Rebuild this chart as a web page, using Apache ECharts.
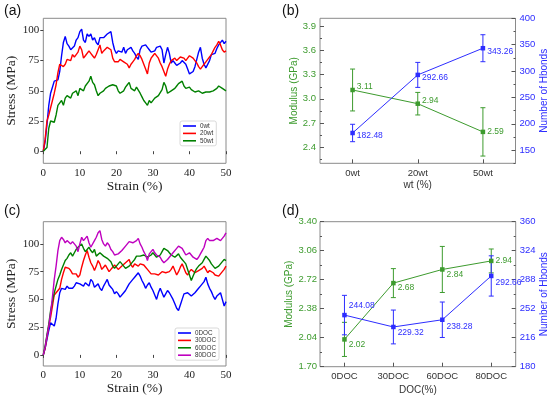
<!DOCTYPE html>
<html><head><meta charset="utf-8">
<script src="https://cdn.jsdelivr.net/npm/echarts@6/dist/echarts.min.js"></script>
<style>html,body{margin:0;padding:0;background:#fff}#c{width:550px;height:399px}</style>
</head><body><div id="c"></div>
<script>
// ---------- DATA ----------
const strainStep = 0.5; // sampling step of the strain readings (%)
const stressTicks = [0, 25, 50, 75, 100];
const strainTicks = [0, 10, 20, 30, 40, 50];

// panel (a): stress (MPa) read every 0.5 % strain, 0..50
const stress0wt = [
 0,8,22,38,48,53,58,57,59,66, 79,90,95,89,87,84,83,87,92,94,
 99,101,92,90,97,95,97,92,94,90, 88,94,95,94,93,97,98,99,90,84,
 81,83,84,82,86,81,84,85,86,83, 81,78,76,84,87,86,88,86,84,82,
 81,83,86,85,87,84,73,80,86,81, 73,75,73,71,70,73,75,74,72,68,
 64,63,66,70,76,82,86,77,72,69, 70,75,80,79,81,85,88,87,92,89, 91];
const stress20wt = [
 0,10,25,30,36,42,48,55,65,72, 73,70,72,76,77,75,80,78,80,82,
 87,84,77,79,80,83,81,79,77,80, 84,88,81,83,84,86,87,84,77,74,
 75,74,76,75,74,73,72,69,72,74, 76,79,81,79,76,72,68,64,73,77,
 79,81,80,77,73,70,66,62,68,72, 75,74,77,75,76,78,79,77,75,77,
 79,78,77,75,73,70,68,70,72,74, 76,78,80,83,86,88,91,88,84,82, 83];
const stress50wt = [
 0,0,3,19,25,26,24,30,38,40, 42,38,44,46,47,44,48,47,50,46,
 52,51,50,54,55,58,62,57,55,50, 46,48,47,50,52,53,54,55,55,56,
 54,50,48,49,50,53,55,57,52,51, 50,53,52,48,45,42,40,38,42,40,
 40,44,45,46,47,51,57,54,48,49, 50,51,52,54,56,55,58,54,52,51,
 53,51,50,49,48,50,50,48,47,49, 50,49,48,50,50,52,54,53,52,51, 50];

// panel (c)
const stress0DOC = [
 0,6,14,22,29,30,26,33,46,56, 60,61,59,62,60,61,60,62,65,66,
 64,63,62,65,64,62,68,66,61,62, 64,60,58,62,65,68,63,61,59,55,
 57,55,52,53,56,58,61,64,66,68, 70,72,74,71,67,64,60,63,65,61,
 58,54,50,56,60,56,52,55,58,56, 55,50,46,42,40,45,50,55,54,56,
 55,53,54,56,58,60,62,61,66,70, 64,60,57,53,50,53,54,56,50,44, 48];
const stress30DOC = [
 0,6,16,26,34,44,54,56,58,60, 68,74,79,80,78,76,73,72,73,70,
 72,79,85,90,94,88,83,80,76,80, 85,82,77,79,81,78,75,77,79,81,
 80,77,78,80,81,83,84,86,81,79, 82,81,80,82,83,81,79,77,75,73,
 72,73,74,72,73,75,76,74,73,75, 77,80,76,72,75,79,82,78,74,72,
 75,77,76,74,75,76,77,78,80,77, 74,76,77,74,72,73,71,73,75,77, 80];
const stress60DOC = [
 0,8,18,28,40,48,56,62,68,72, 77,81,85,87,90,92,89,92,95,97,
 98,100,96,93,92,97,94,92,95,89, 90,92,91,89,88,87,86,84,80,78,
 78,82,84,82,80,78,77,80,82,84, 86,89,90,89,88,90,91,88,87,90,
 92,90,88,89,90,93,96,97,94,92, 90,89,88,89,91,88,86,84,82,77,
 72,67,71,75,78,80,81,83,86,89, 88,85,82,80,78,79,80,82,84,86, 85];
const stress80DOC = [
 0,7,17,26,38,52,68,80,94,103, 106,104,101,103,104,100,102,101,98,93,
 100,106,103,105,107,101,97,96,103,106, 110,112,104,100,98,101,99,95,93,90,
 90,91,92,94,95,98,100,102,103,101, 100,103,105,100,97,93,90,85,91,93,
 95,92,90,89,88,85,83,84,86,88, 90,92,93,96,98,97,96,93,90,91,
 92,90,88,87,86,88,91,94,97,103, 105,103,102,103,104,105,104,103,104,107, 110];

// panel (b)
const wtCats = ['0wt', '20wt', '50wt'];
const wtModulus = [3.11, 2.94, 2.59];
const wtModulusErr = [0.26, 0.14, 0.30];
const wtHbonds = [182.48, 292.66, 343.26];
const wtHbondsErr = [16.5, 23.7, 25.6];
const wtModTicks = [2.4, 2.7, 3.0, 3.3, 3.6, 3.9];
const wtModMinor = [2.25, 2.55, 2.85, 3.15, 3.45, 3.75];
const wtHbTicks = [150, 200, 250, 300, 350, 400];
const wtHbMinor = [125, 175, 225, 275, 325, 375];

// panel (d)
const docCats = ['0DOC', '30DOC', '60DOC', '80DOC'];
const docModulus = [2.02, 2.68, 2.84, 2.94];
const docModulusErr = [0.20, 0.17, 0.27, 0.14];
const docHbonds = [244.08, 229.32, 238.28, 292.66];
const docHbondsErr = [24.5, 21, 22, 25];

// ---------- STYLE ----------
const SERIF = 'Liberation Serif', SANS = 'Liberation Sans';
const GREEN = '#3d9b2e', BLUE = '#2d2dff';
const FRAME = '#8a8a8a';
const wtModLabelOffset = [[0,-3],[0,-3],[0,0]];
const wtHbLabelOffset = [[0,3],[0,3],[0,3]];
const docModLabelOffset = [[0,5],[0,5],[0,5],[0,0]];
const docHbLabelOffset = [[0,-9],[0,6],[0,7],[0,7]];

function pairs(arr){ return arr.map((v,i)=>[i*strainStep, v]); }
function errData(vals, errs){ return vals.map((v,i)=>[i, v-errs[i], v+errs[i]]); }
function labeled(vals, offs){
  return vals.map((v,i)=>({value:v, label:{offset:offs[i]}}));
}
function errRender(color){
  return function(params, api){
    const x = api.value(0);
    const p1 = api.coord([x, api.value(1)]), p2 = api.coord([x, api.value(2)]);
    const w = 2.5, st = {stroke: color, lineWidth: 1};
    return {type:'group', children:[
      {type:'line', shape:{x1:p1[0],y1:p1[1],x2:p2[0],y2:p2[1]}, style:st},
      {type:'line', shape:{x1:p1[0]-w,y1:p1[1],x2:p1[0]+w,y2:p1[1]}, style:st},
      {type:'line', shape:{x1:p2[0]-w,y1:p2[1],x2:p2[0]+w,y2:p2[1]}, style:st}
    ]};
  };
}
function gridCfg(l,t,w,h){
  return {left:l, top:t, width:w, height:h, show:true, borderColor:FRAME, borderWidth:1,
          backgroundColor:'transparent', containLabel:false, outerBoundsMode:'none'};
}
function strainX(idx){
  return {gridIndex:idx, type:'value', min:0, max:50, interval:10,
    axisLine:{show:false}, splitLine:{show:false},
    axisTick:{show:true, length:3, lineStyle:{color:'#444'}},
    axisLabel:{fontFamily:SERIF, fontSize:11, color:'#222', margin:4},
    name:'Strain (%)', nameLocation:'middle', nameGap:14,
    nameTextStyle:{fontFamily:SERIF, fontSize:13.5, color:'#222'}};
}
function stressY(idx, min, max){
  return {gridIndex:idx, type:'value', min:min, max:max,
    axisLine:{show:false}, splitLine:{show:false},
    axisTick:{show:true, length:3, customValues:stressTicks, lineStyle:{color:'#444'}},
    axisLabel:{fontFamily:SERIF, fontSize:11, color:'#222', margin:4, customValues:stressTicks},
    name:'Stress (MPa)', nameLocation:'middle', nameRotate:90, nameGap:21,
    nameTextStyle:{fontFamily:SERIF, fontSize:13.5, color:'#222'}};
}
function catX(idx, cats, name, gap){
  return {gridIndex:idx, type:'category', data:cats, boundaryGap:true,
    axisLine:{show:false}, splitLine:{show:false},
    axisTick:{show:true, inside:true, alignWithLabel:true, length:4, lineStyle:{color:'#555'}},
    axisLabel:{fontFamily:SANS, fontSize:9.5, color:'#333', margin:5},
    name:name, nameLocation:'middle', nameGap:gap,
    nameTextStyle:{fontFamily:SANS, fontSize:10, color:'#333'}};
}
function curve(name, arr, color, x, y){
  return {name:name, type:'line', xAxisIndex:x, yAxisIndex:y, data:pairs(arr),
    symbol:'none', lineStyle:{color:color, width:1.4}, itemStyle:{color:color},
    animation:false, z:3};
}
function legendCfg(names, left, top){
  return {data:names, orient:'vertical', left:left, top:top, icon:'rect', itemWidth:13, itemHeight:1.6,
    itemGap:1.4, padding:[2,3,2,3], borderColor:'#cfcfcf', borderWidth:0.8, borderRadius:2,
    backgroundColor:'#fff', textStyle:{fontFamily:SANS, fontSize:6.3, color:'#333', padding:[0,0,0,-1]},
    selectedMode:false};
}
function panelTitle(t, l, tp){
  return {text:t, left:l, top:tp, padding:0,
    textStyle:{fontFamily:SANS, fontSize:14, fontWeight:'normal', color:'#111'}};
}

const option = {
  backgroundColor:'#fff',
  animation:false,
  title:[panelTitle('(a)',4,4), panelTitle('(b)',282,4), panelTitle('(c)',4,204), panelTitle('(d)',282,204)],
  legend:[legendCfg(['0wt','20wt','50wt'],180,121), legendCfg(['0DOC','30DOC','60DOC','80DOC'],175,328)],
  grid:[gridCfg(43.3,18.3,182.7,145), gridCfg(320,18.3,195.5,145), gridCfg(43.3,221.7,182.7,144.3), gridCfg(320,221.7,195.7,145)],
  xAxis:[
    strainX(0),
    catX(1, wtCats, 'wt (%)', 17),
    strainX(2),
    catX(3, docCats, 'DOC(%)', 19)
  ],
  yAxis:[
    stressY(0, -10, 110),
    {gridIndex:1, type:'value', position:'left', min:2.2, max:4.0,
      axisLine:{show:false}, splitLine:{show:false},
      axisTick:{show:true, inside:true, length:4, customValues:wtModTicks, lineStyle:{color:'#555'}},
      axisLabel:{fontFamily:SANS, fontSize:9.5, color:GREEN, margin:4, customValues:wtModTicks, formatter:v=>v.toFixed(1)},
      name:'Modulus (GPa)', nameLocation:'middle', nameRotate:90, nameGap:17,
      nameTextStyle:{fontFamily:SANS, fontSize:10, color:GREEN}},
    {gridIndex:1, type:'value', position:'right', min:125, max:400,
      axisLine:{show:false}, splitLine:{show:false},
      axisTick:{show:true, inside:true, length:4, customValues:wtHbTicks, lineStyle:{color:'#555'}},
      axisLabel:{fontFamily:SANS, fontSize:9.5, color:BLUE, margin:4, customValues:wtHbTicks},
      name:'Number of Hbonds', nameLocation:'middle', nameRotate:90, nameGap:22,
      nameTextStyle:{fontFamily:SANS, fontSize:10, color:BLUE}},
    stressY(2, -10, 120),
    {gridIndex:3, type:'value', position:'left', min:1.70, max:3.40, interval:0.34,
      axisLine:{show:false}, splitLine:{show:false},
      axisTick:{show:true, inside:true, length:4, lineStyle:{color:'#555'}},
      minorTick:{show:true, splitNumber:2, length:2, lineStyle:{color:'#555'}},
      axisLabel:{fontFamily:SANS, fontSize:9.5, color:GREEN, margin:3, formatter:v=>v.toFixed(2)},
      name:'Modulus (GPa)', nameLocation:'middle', nameRotate:90, nameGap:25,
      nameTextStyle:{fontFamily:SANS, fontSize:10, color:GREEN}},
    {gridIndex:3, type:'value', position:'right', min:180, max:360, interval:36,
      axisLine:{show:false}, splitLine:{show:false},
      axisTick:{show:true, inside:true, length:4, lineStyle:{color:'#555'}},
      minorTick:{show:true, splitNumber:2, length:2, lineStyle:{color:'#555'}},
      axisLabel:{fontFamily:SANS, fontSize:9.5, color:BLUE, margin:4},
      name:'Number of Hbonds', nameLocation:'middle', nameRotate:90, nameGap:22,
      nameTextStyle:{fontFamily:SANS, fontSize:10, color:BLUE}},
    {gridIndex:1, type:'value', position:'left', min:2.2, max:4.0,
      axisLine:{show:false}, splitLine:{show:false}, axisLabel:{show:false},
      axisTick:{show:true, inside:true, length:2, customValues:wtModMinor, lineStyle:{color:'#555'}}},
    {gridIndex:1, type:'value', position:'right', min:125, max:400,
      axisLine:{show:false}, splitLine:{show:false}, axisLabel:{show:false},
      axisTick:{show:true, inside:true, length:2, customValues:wtHbMinor, lineStyle:{color:'#555'}}}
  ],
  series:[
    curve('0wt', stress0wt, '#0000ff', 0, 0),
    curve('20wt', stress20wt, '#ff0000', 0, 0),
    curve('50wt', stress50wt, '#008000', 0, 0),
    curve('0DOC', stress0DOC, '#0000ff', 2, 3),
    curve('30DOC', stress30DOC, '#ff0000', 2, 3),
    curve('60DOC', stress60DOC, '#008000', 2, 3),
    curve('80DOC', stress80DOC, '#bf00bf', 2, 3),
    // panel (b)
    {type:'custom', xAxisIndex:1, yAxisIndex:1, data:errData(wtModulus, wtModulusErr), renderItem:errRender(GREEN), z:2},
    {type:'custom', xAxisIndex:1, yAxisIndex:2, data:errData(wtHbonds, wtHbondsErr), renderItem:errRender(BLUE), z:2},
    {type:'line', xAxisIndex:1, yAxisIndex:1, data:labeled(wtModulus, wtModLabelOffset),
      symbol:'rect', symbolSize:4.5, lineStyle:{color:GREEN, width:1}, itemStyle:{color:GREEN},
      label:{show:true, position:'right', distance:2, fontFamily:SANS, fontSize:8.5, color:GREEN, formatter:p=>p.value.toFixed(2)}, z:3},
    {type:'line', xAxisIndex:1, yAxisIndex:2, data:labeled(wtHbonds, wtHbLabelOffset),
      symbol:'rect', symbolSize:4.5, lineStyle:{color:BLUE, width:1}, itemStyle:{color:BLUE},
      label:{show:true, position:'right', distance:2, fontFamily:SANS, fontSize:8.5, color:BLUE, formatter:p=>p.value.toFixed(2)}, z:3},
    // panel (d)
    {type:'custom', xAxisIndex:3, yAxisIndex:4, data:errData(docModulus, docModulusErr), renderItem:errRender(GREEN), z:2},
    {type:'custom', xAxisIndex:3, yAxisIndex:5, data:errData(docHbonds, docHbondsErr), renderItem:errRender(BLUE), z:2},
    {type:'line', xAxisIndex:3, yAxisIndex:4, data:labeled(docModulus, docModLabelOffset),
      symbol:'rect', symbolSize:4.5, lineStyle:{color:GREEN, width:1}, itemStyle:{color:GREEN},
      label:{show:true, position:'right', distance:2, fontFamily:SANS, fontSize:8.5, color:GREEN, formatter:p=>p.value.toFixed(2)}, z:3},
    {type:'line', xAxisIndex:3, yAxisIndex:5, data:labeled(docHbonds, docHbLabelOffset),
      symbol:'rect', symbolSize:4.5, lineStyle:{color:BLUE, width:1}, itemStyle:{color:BLUE},
      label:{show:true, position:'right', distance:2, fontFamily:SANS, fontSize:8.5, color:BLUE, formatter:p=>p.value.toFixed(2)}, z:3}
  ]
};
const chart = echarts.init(document.getElementById('c'), null, {renderer:'canvas'});
chart.setOption(option);
</script>
</body></html>
